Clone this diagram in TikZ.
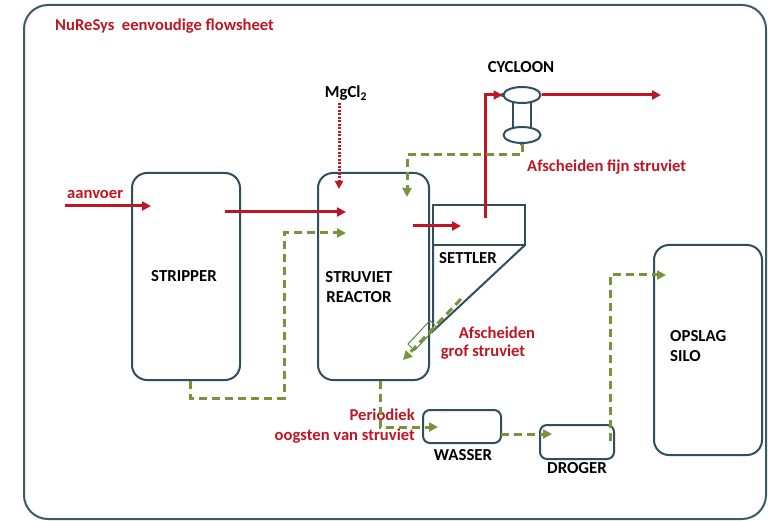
\documentclass[tikz,border=0pt]{standalone}
\usepackage{fontspec}
\setmainfont{Carlito}
\usetikzlibrary{arrows.meta,shapes.geometric}
\definecolor{rd}{RGB}{192,22,36}
\definecolor{gr}{RGB}{119,147,60}
\definecolor{bx}{RGB}{47,79,92}
\definecolor{frame}{RGB}{60,90,100}
\tikzset{
  box/.style={draw=bx, line width=2pt, rounded corners=15pt, inner sep=0pt},
  lbl/.style={font=\fontsize{16.8}{20}\selectfont\bfseries, text=black, inner sep=0pt},
  rlbl/.style={font=\fontsize{16.6}{20}\selectfont\bfseries, text=rd, inner sep=0pt},
  redflow/.style={draw=rd, line width=3pt, -{Triangle[length=9pt,width=9pt]}},
  greenflow/.style={draw=gr, line width=3pt, dash pattern=on 8pt off 5pt, -{Triangle[length=9pt,width=9pt]}},
  dotflow/.style={draw=rd, line width=3pt, dash pattern=on 2pt off 1.5pt, -{Triangle[length=8pt,width=8pt]}},
  unit/.style={draw=bx, line width=2pt},
  cyc/.style={draw=bx, line width=2pt, ellipse, minimum width=37pt, minimum height=16pt, inner sep=0pt}
}
\begin{document}
\begin{tikzpicture}[x=1pt,y=-1pt]
\useasboundingbox (0,0) rectangle (768,521);
\fill[white] (0,0) rectangle (768,521);
% outer frame
\draw[draw=frame, line width=2pt, rounded corners=24pt] (24,5) rectangle (766,519);
\node[rlbl, anchor=west] (title) at (55,26) {NuReSys\ \ eenvoudige flowsheet};

% main units
\node[box, minimum width=108pt, minimum height=207pt] (stripper) at (186,276.5) {};
\node[box, minimum width=111pt, minimum height=207pt] (reactor) at (373.5,276.5) {};
\node[box, rounded corners=7pt, minimum width=78pt, minimum height=33pt] (wasser) at (462,426.5) {};
\node[box, rounded corners=7pt, minimum width=74pt, minimum height=34pt] (droger) at (577,442) {};
\node[box, minimum width=108pt, minimum height=210pt] (silo) at (708,350) {};

\node[lbl] (tstripper) at (184,276) {STRIPPER};
\node[lbl, align=center] (treactor) at (359,287) {STRUVIET\\REACTOR};
\node[lbl] (twasser) at (463,455) {WASSER};
\node[lbl] (tdroger) at (577,468) {DROGER};
\node[lbl, align=left, anchor=west] (tsilo) at (670,346) {OPSLAG\\SILO};

% settler
\coordinate (s1) at (433,205);
\coordinate (s2) at (525,205);
\coordinate (s3) at (525,245);
\coordinate (s4) at (433,245);
\coordinate (s5) at (433,331);
\draw[unit] (s1) -- (s2) -- (s3) -- (s4) -- cycle;
\draw[unit] (s4) -- (s5) -- (s3);
\node[lbl] (tsettler) at (468,258) {SETTLER};

% cycloon
\node[cyc] (cyctop) at (522,95) {};
\node[cyc] (cycbot) at (522,135) {};
\draw[unit] (513,102) -- (513,128);
\draw[unit] (531,102) -- (531,128);
\node[lbl] (tcycloon) at (521,67) {CYCLOON};
\fill[bx] (cyctop.west) circle (2pt);
\fill[bx] (cycbot.south) circle (2pt);

% labels
\node[lbl] (tmgcl) at (346,93) {MgCl\textsubscript{2}};
\node[rlbl, anchor=west] (taanvoer) at (67,194) {aanvoer};
\node[rlbl, anchor=west] (tfijn) at (527,167) {Afscheiden fijn struviet};
\node[rlbl] (tgrof1) at (497,333) {Afscheiden};
\node[rlbl] (tgrof2) at (483,352) {grof struviet};
\node[rlbl, align=right, anchor=east] (toogst) at (415,426) {Periodiek\\oogsten van struviet};

% flows
\coordinate (aanin) at (65,206);
\coordinate (aanout) at (151,206);
\draw[redflow] (aanin) -- (aanout);
\coordinate (f1a) at (225,212);
\coordinate (f1b) at (346,212);
\draw[redflow] (f1a) -- (f1b);
\coordinate (mga) at (339,103);
\coordinate (mgb) at (339,189);
\draw[dotflow] (mga) -- (mgb);
\coordinate (f2a) at (413,226);
\coordinate (f2b) at (461,226);
\draw[redflow] (f2a) -- (f2b);
\coordinate (up0) at (485,218);
\draw[redflow] (up0) -- (485,95) -- (cyctop.west);
\coordinate (outend) at (661,95);
\draw[redflow] (cyctop.east) -- (outend);

% green recycles
\coordinate (g1a) at (190,381);
\coordinate (g1b) at (346,233);
\draw[greenflow] (g1a) -- (190,398) -- (284,398) -- (284,233) -- (g1b);
\coordinate (g2b) at (407,197);
\draw[greenflow] (cycbot.south) -- (522,155) -- (407,155) -- (g2b);
% coarse struvite pipe
\draw[draw=gr!70!bx, line width=1pt] (436.5,327) -- (430,320.5) -- (408,344) -- (414.5,350.5) -- cycle;
\coordinate (g3a) at (461,299);
\coordinate (g3b) at (403,360);
\draw[greenflow] (g3a) -- (g3b);
\coordinate (g4a) at (380,381);
\coordinate (g4b) at (438,427);
\draw[greenflow] (g4a) -- (380,427) -- (g4b);
\coordinate (g5a) at (501,434);
\coordinate (g5b) at (552,434);
\draw[greenflow] (g5a) -- (g5b);
\coordinate (g6a) at (610,441);
\coordinate (g6b) at (666,275);
\draw[greenflow] (g6a) -- (610,275) -- (g6b);
\end{tikzpicture}
\end{document}
